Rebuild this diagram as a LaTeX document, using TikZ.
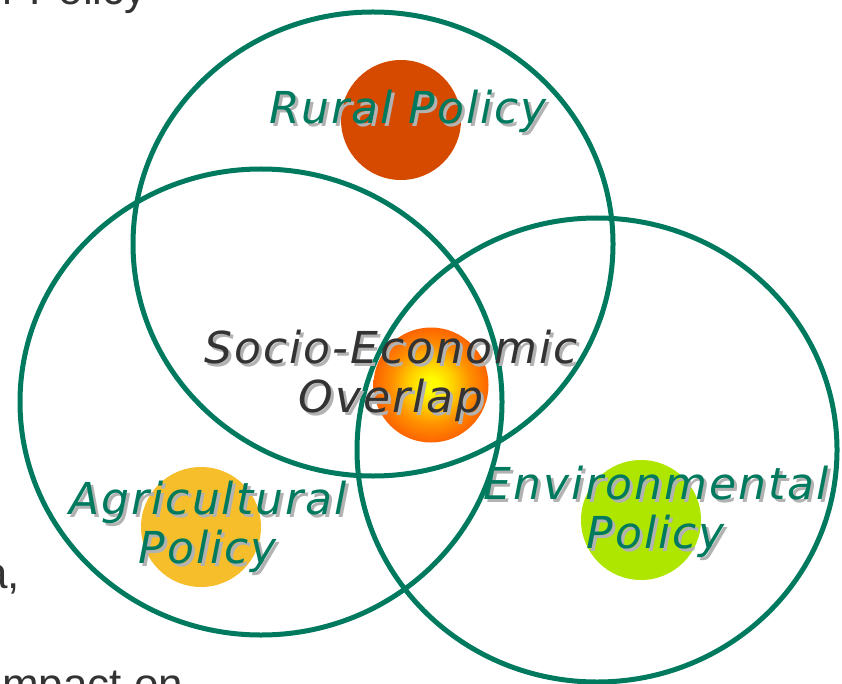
\documentclass[tikz,border=0pt]{standalone}
\usepackage{fontspec}
\newfontfamily\labelfont[LetterSpace=4.5]{DejaVu Sans}
\newfontfamily\bgfont{Liberation Sans}
\definecolor{ringgreen}{RGB}{0,122,94}
\definecolor{labelgreen}{RGB}{0,122,94}
\definecolor{labelgrey}{RGB}{51,51,51}
\definecolor{shadowgrey}{RGB}{178,178,178}
\definecolor{bgtext}{RGB}{51,51,51}
\definecolor{ruralfill}{RGB}{214,74,0}
\definecolor{agrifill}{RGB}{245,190,42}
\definecolor{envfill}{RGB}{174,230,0}
\definecolor{sunyellow}{RGB}{255,252,0}
\definecolor{sunmid}{RGB}{255,205,0}
\definecolor{sunorange}{RGB}{255,145,0}
\definecolor{sunedge}{RGB}{252,100,0}
\pgfdeclareradialshading{sunball}{\pgfpoint{0bp}{0bp}}{color(0bp)=(sunyellow); color(3bp)=(sunyellow); color(10bp)=(sunmid); color(17bp)=(sunorange); color(25bp)=(sunedge); color(50bp)=(sunedge)}
\newcommand\shadowlabel[5]{% name, position, anchor, colour, text
  \node[lbl, text=shadowgrey, anchor=#3, shift={(3pt,-3pt)}] (#1-shadow) at (#2) {#5};
  \node[lbl, text=#4, anchor=#3] (#1) at (#2) {#5};}
\begin{document}
\begin{tikzpicture}[x=1pt,y=-1pt,
  ring/.style={draw=ringgreen, line width=5pt},
  ball/.style={circle, minimum size=120pt, inner sep=0pt, draw=none},
  lbl/.style={font=\labelfont\itshape\fontsize{44}{49}\selectfont, align=center, inner sep=0pt},
  bg/.style={font=\bgfont\fontsize{44}{49}\selectfont, text=bgtext, inner sep=0pt}]
\useasboundingbox (0,0) rectangle (842,684);
\begin{scope}
  \clip (0,0) rectangle (842,684);
  \node[bg, anchor=base east] (frag1) at (147,5) {r Policy};
  \node[bg, anchor=base east] (frag2) at (20,588) {a,};
  \node[bg, anchor=base west] (frag3) at (2,699) {mpact on};
\end{scope}
% coloured balls
\node[ball, fill=ruralfill] (ruralball) at (401,120) {};
\node[ball, fill=agrifill] (agriball) at (201,527) {};
\node[ball, fill=envfill] (envball) at (641,520) {};
\node[circle, minimum size=115pt, inner sep=0pt, shading=sunball] (sunball) at (431,385) {};
% rings
\draw[ring] (373,244) ellipse [x radius=240pt, y radius=232pt];
\draw[ring] (261,402) ellipse [x radius=241pt, y radius=233pt];
\draw[ring] (597,450) ellipse [x radius=240pt, y radius=232pt];
% labels
\shadowlabel{rural}{408,124}{base}{labelgreen}{Rural Policy}
\shadowlabel{socio}{391,376}{center}{labelgrey}{Socio-Economic\\Overlap}
\shadowlabel{agri}{208,527}{center}{labelgreen}{Agricultural\\Policy}
\shadowlabel{env}{656,512}{center}{labelgreen}{Environmental\\Policy}
\end{tikzpicture}
\end{document}
